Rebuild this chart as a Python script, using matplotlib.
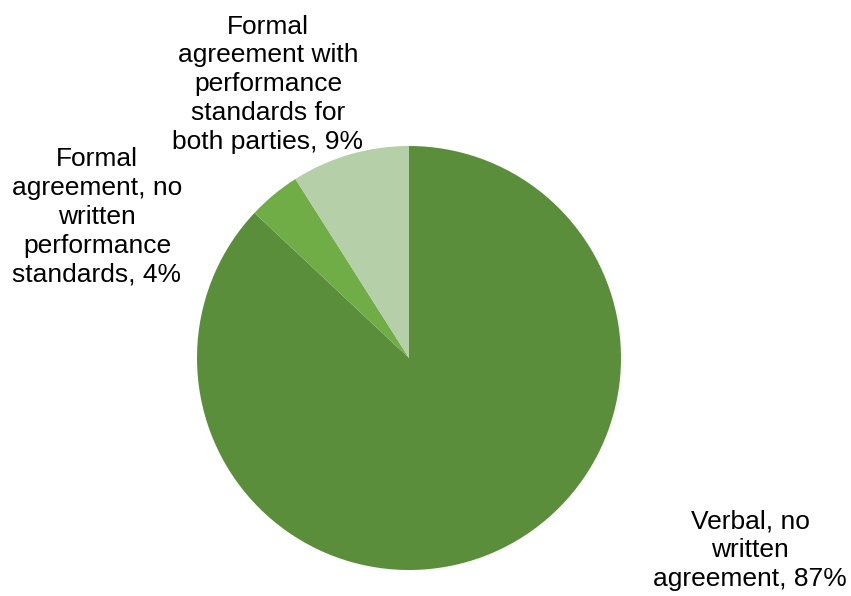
import matplotlib.pyplot as plt

plt.rcParams['font.family'] = ['Liberation Sans', 'DejaVu Sans']

labels = [
    "Verbal, no\nwritten\nagreement, 87%",
    "Formal\nagreement, no\nwritten\nperformance\nstandards, 4%",
    "Formal\nagreement with\nperformance\nstandards for\nboth parties, 9%",
]
shares = [87, 4, 9]
colors = ["#5B8E3A", "#70AD47", "#B5CFA8"]

# label anchor points in pixel space (x right, y down)
label_pos = [(750, 550), (97, 217), (268, 84)]

W, H = 851, 596
fig = plt.figure(figsize=(W / 100, H / 100), dpi=100)
ax = fig.add_axes([0, 0, 1, 1])

cx, cy, r = 409, H - 358, 212
ax.pie(shares, colors=colors, startangle=90, counterclock=False,
       center=(cx, cy), radius=r, frame=True,
       wedgeprops=dict(linewidth=0))
ax.set_xlim(0, W)
ax.set_ylim(0, H)
ax.set_aspect("equal")
ax.axis("off")

for txt, (px, py) in zip(labels, label_pos):
    ax.text(px, H - py, txt, ha="center", va="center", fontsize=19,
            linespacing=1.25, color="#000000")

fig.savefig("out.png", dpi=100)
